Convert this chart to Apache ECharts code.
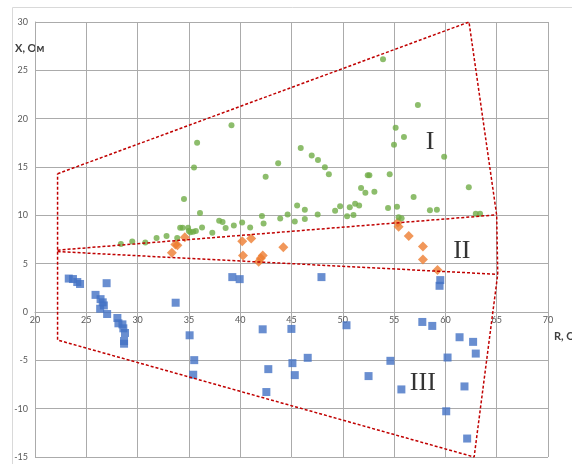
<!DOCTYPE html>
<html>
<head>
<meta charset="utf-8">
<script src="https://cdn.jsdelivr.net/npm/echarts@6/dist/echarts.min.js"></script>
<style>
html,body{margin:0;padding:0;background:#fff;}
#c{width:572px;height:464px;}
</style>
</head>
<body>
<div id="c"></div>
<script>
// Axis ticks
const rTicks = {min: 20, max: 70, step: 5};
const xTicks = {min: -15, max: 30, step: 5};

// Zone I (green circles): [R, X]
const zoneI = [
  [28.37,7.03],[29.48,7.3],[30.75,7.18],[31.85,7.66],[32.82,7.87],[33.86,7.66],
  [34.15,8.71],[34.38,8.71],[34.92,8.71],[35.0,8.37],[35.15,8.25],[35.42,8.29],[35.68,8.39],
  [36.28,8.75],[37.28,8.2],[37.95,9.45],[38.28,9.3],[38.58,8.68],[39.38,8.95],[40.19,9.25],
  [40.97,8.73],[42.12,9.92],[42.28,9.16],[43.9,9.68],[44.62,10.08],[45.32,9.35],[45.55,11.03],
  [46.3,10.58],[46.3,9.62],[47.55,10.08],
  [34.52,11.7],[36.08,10.24],[35.5,14.94],[35.8,17.5],[39.15,19.33],[42.48,13.98],[43.7,15.38],
  [45.9,16.96],[46.97,16.2],[47.58,15.73],[48.25,14.97],[48.64,14.24],
  [49.25,10.48],[49.74,10.93],[50.42,9.9],[50.68,10.83],[51.04,10.03],[51.2,11.2],[51.59,11.03],
  [51.78,12.83],[52.2,12.34],[53.08,12.45],[52.43,14.14],[52.59,14.14],[54.57,14.24],
  [54.41,10.76],[55.28,10.9],[55.44,9.79],[55.73,9.69],[56.9,11.9],[58.49,10.52],[59.17,10.59],
  [62.28,12.9],[62.96,10.17],[63.38,10.17],[54.99,17.31],[55.15,19.07],[55.96,18.1],
  [57.32,21.41],[59.88,16.07],[53.92,26.14]
];

// Zone II (orange diamonds): [R, X]
const zoneII = [
  [33.34,6.13],[33.68,6.98],[33.88,6.9],[34.6,7.72],[40.2,7.33],[41.07,7.6],[40.27,5.85],
  [42.2,5.85],[42.01,5.55],[41.8,5.2],[44.2,6.7],[55.36,9.25],[55.44,8.83],[56.43,7.86],
  [57.81,6.78],[57.81,5.44],[59.23,4.35]
];

// Zone III (blue squares): [R, X]
const zoneIII = [
  [23.29,3.46],[23.7,3.41],[24.12,3.1],[24.39,2.9],[26.98,2.98],[25.9,1.77],[26.39,1.33],
  [26.6,1.0],[26.71,0.68],[26.35,0.34],[27.03,-0.21],[28.03,-0.62],[28.13,-1.17],[28.52,-1.28],
  [28.61,-1.69],[28.77,-2.17],[28.68,-3.0],[28.68,-3.28],[33.71,0.96],[39.23,3.61],[39.95,3.4],
  [47.92,3.61],[42.19,-1.79],[44.99,-1.75],[50.36,-1.37],[35.07,-2.41],[35.52,-4.98],[35.42,-6.49],
  [42.74,-5.91],[45.09,-5.29],[45.32,-6.53],[46.58,-4.74],[42.55,-8.28],[52.51,-6.63],
  [59.5,3.3],[59.43,2.71],[57.75,-1.03],[58.72,-1.44],[61.38,-2.61],[62.7,-3.09],[62.96,-4.3],
  [60.21,-4.71],[54.64,-5.05],[55.71,-8.01],[61.86,-7.7],[60.08,-10.27],[62.12,-13.09]
];

// Zone boundaries (red dotted): [R, X]
const outerBoundary = [[22.2,14.3],[62.3,30],[65.0,10.0],[65.1,3.9],[62.8,-15],[22.2,-2.9],[22.2,14.3]];
const boundaryI_II = [[22.2,6.4],[65.0,10.05]];
const boundaryII_III = [[22.2,6.25],[65.1,3.9]];

// Zone labels
const zoneNames = ['I','II','III'];
const zoneLabelR = [58.5, 61.6, 57.8];
const zoneLabelX = [17.6, 6.25, -7.37];

const axisNameX = 'X, Ом';
const axisNameR = 'R, Ом';

const chart = echarts.init(document.getElementById('c'), null, {renderer:'canvas'});

const gridTop = 22, gridHeight = 435;
const gridColor = '#ababab';
const labelStyle = {fontSize: 9, color: '#595959', fontFamily: 'Lato, "Liberation Sans", sans-serif'};
const redLine = {color: '#c00000', width: 1.5, type: [3, 2]};
// move the R axis (line + labels) up to X = 0
const zeroOffset = -gridHeight * (0 - xTicks.min) / (xTicks.max - xTicks.min);

function boundarySeries(data){
  return {type:'line', data: data, symbol:'none', silent:true, z:5,
    lineStyle: redLine, animation:false};
}

chart.setOption({
  animation: false,
  grid: {left: 35, top: gridTop, width: 513, height: gridHeight, containLabel: false},
  xAxis: {
    type: 'value', min: rTicks.min, max: rTicks.max, interval: rTicks.step,
    position: 'bottom', offset: zeroOffset,
    axisLine: {show: true, onZero: false, lineStyle: {color: gridColor, width: 1}},
    axisTick: {show: false},
    axisLabel: Object.assign({margin: 4}, labelStyle),
    splitLine: {show: true, lineStyle: {color: gridColor, width: 1}}
  },
  yAxis: {
    type: 'value', min: xTicks.min, max: xTicks.max, interval: xTicks.step,
    axisLine: {show: true, onZero: false, lineStyle: {color: gridColor, width: 1}},
    axisTick: {show: false},
    axisLabel: Object.assign({margin: 7}, labelStyle),
    splitLine: {show: true, lineStyle: {color: gridColor, width: 1}}
  },
  graphic: [
    {type:'rect', left: 10, top: 5, shape:{x:0.5, y:0.5, width: 600, height: 500},
      style:{fill:'none', stroke:'#d9d9d9', lineWidth:1}, silent:true, z:-1},
    {type:'text', left: 15, top: 43, style:{text: axisNameX, font:'bold 11px Lato, "Liberation Sans", sans-serif', fill:'#404040'}},
    {type:'text', left: 554, top: 331, style:{text: axisNameR, font:'bold 11px Lato, "Liberation Sans", sans-serif', fill:'#404040'}}
  ],
  series: [
    {type:'scatter', name:'III', data: zoneIII, symbol:'rect', symbolSize: 8,
      itemStyle:{color:'#4472c4'}, z:3},
    {type:'scatter', name:'II', data: zoneII, symbol:'diamond', symbolSize: 10,
      itemStyle:{color:'#ed7d31'}, z:3},
    {type:'scatter', name:'I', data: zoneI, symbol:'circle', symbolSize: 6,
      itemStyle:{color:'#70ad47'}, z:3},
    boundarySeries(outerBoundary),
    boundarySeries(boundaryI_II),
    boundarySeries(boundaryII_III),
    {type:'scatter', silent:true, symbolSize: 0, z:6,
      data: zoneNames.map((n,i)=>({name:n, value:[zoneLabelR[i], zoneLabelX[i]]})),
      label:{show:true, position:'inside', formatter: p => p.name,
        fontFamily:'"Liberation Serif", "DejaVu Serif", serif', fontSize: 26, color:'#000'}}
  ]
});
</script>
</body>
</html>
